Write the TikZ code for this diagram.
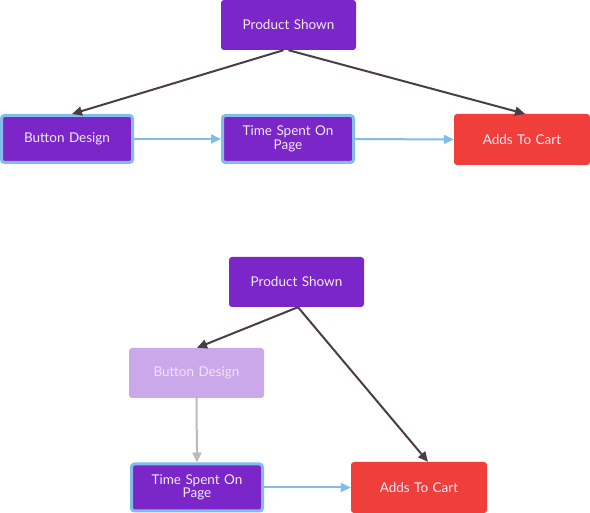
\documentclass[tikz,border=0pt]{standalone}
\usepackage{fontspec}
\setmainfont{Lato}
\usetikzlibrary{arrows.meta,calc}
\definecolor{pur}{HTML}{7A26C9}
\definecolor{lpur}{HTML}{CBA8EA}
\definecolor{lpurtxt}{HTML}{F0E4FA}
\definecolor{redbox}{HTML}{F03E3A}
\definecolor{bord}{HTML}{80BDEB}
\definecolor{dark}{HTML}{4B3D48}
\definecolor{grayarr}{HTML}{BBBBBB}
\definecolor{txt}{HTML}{F3EAFB}
\tikzset{
  box/.style={rectangle, rounded corners=3pt, text=txt, font=\fontsize{13.5}{13.5}\selectfont,
    align=center, inner sep=2pt, minimum width=135pt, minimum height=50pt, text width=120pt},
  purbox/.style={box, fill=pur},
  bordbox/.style={box, fill=pur, draw=bord, line width=3pt, minimum width=131pt, minimum height=47pt},
  redb/.style={box, fill=redbox, minimum width=136pt, minimum height=51pt},
  fadebox/.style={box, fill=lpur, text=lpurtxt},
  darr/.style={draw=dark, line width=2pt, -{Triangle[length=10pt,width=9pt]}},
  barr/.style={draw=bord, line width=2pt, -{Triangle[length=10pt,width=9pt]}},
  garr/.style={draw=grayarr, line width=2pt, -{Triangle[length=10pt,width=9pt]}},
}
\begin{document}
\begin{tikzpicture}[x=1pt,y=-1pt]
\useasboundingbox (0,0) rectangle (590,513);
% top diagram
\node[purbox] (p1) at (288.5,25) {Product Shown};
\node[bordbox] (b1) at (67,139) {Button Design};
\node[bordbox] (t1) at (288,139) {Time Spent On\\Page};
\node[redb] (a1) at (522,139.5) {Adds To Cart};
\draw[darr] ([xshift=-5pt]p1.south) -- ([xshift=5pt]b1.north);
\draw[darr] ([xshift=0pt]p1.south) -- ([xshift=3pt]a1.north);
\draw[barr] (b1.east) -- (t1.west);
\draw[barr] (t1.east) -- (a1.west);
% bottom diagram
\node[purbox] (p2) at (296.5,282) {Product Shown};
\node[fadebox] (b2) at (196.5,373) {Button Design};
\node[bordbox] (t2) at (197,487.5) {Time Spent On\\Page};
\node[redb] (a2) at (419,487.5) {Adds To Cart};
\draw[darr] ([xshift=1.5pt]p2.south) -- ([xshift=0.5pt]b2.north);
\draw[darr] ([xshift=1.5pt]p2.south) -- ([xshift=9pt]a2.north);
\draw[garr] (b2.south) -- (t2.north);
\draw[barr] (t2.east) -- (a2.west);
\end{tikzpicture}
\end{document}
